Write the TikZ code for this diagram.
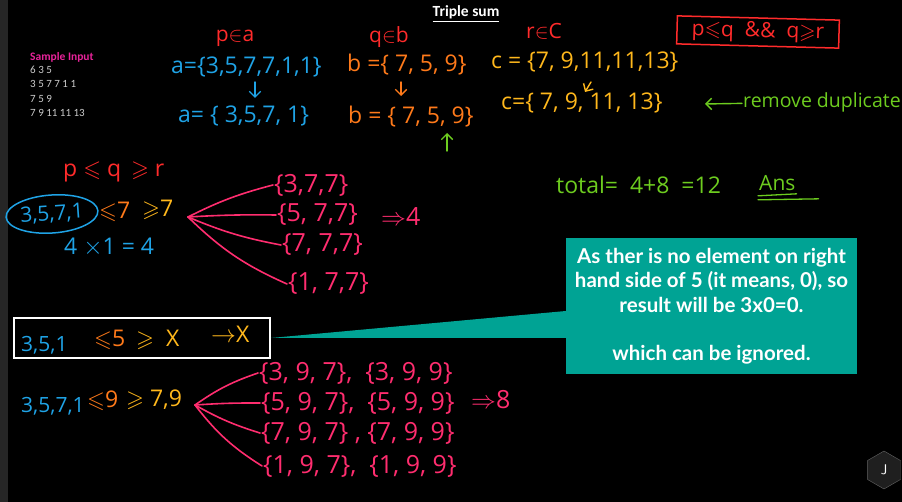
\documentclass[tikz,border=0pt]{standalone}
\usepackage{amssymb}
\usepackage{fontspec}
\newfontfamily\handfont{Open Sans}
\newfontfamily\notefont{Lato}
\newfontfamily\slidefont{Carlito}
\usetikzlibrary{arrows.meta,positioning,shapes.geometric}
\definecolor{inkred}{HTML}{FF2B2B}
\definecolor{inkblue}{HTML}{1FA3E6}
\definecolor{inkorange}{HTML}{FF7A1A}
\definecolor{inkyellow}{HTML}{FFB81C}
\definecolor{inkgreen}{HTML}{6DCC1F}
\definecolor{inkpink}{HTML}{FF2D6F}
\definecolor{noteteal}{HTML}{00A394}
\definecolor{samplepink}{HTML}{E8239A}

\begin{document}
\begin{tikzpicture}[x=1pt, y=-1pt,
  hand/.style={font=\handfont\fontsize{23}{26}\selectfont, inner sep=1pt},
  small/.style={font=\handfont\fontsize{21}{24}\selectfont, inner sep=1pt},
  set/.style={font=\handfont\fontsize{25}{28}\selectfont, inner sep=1pt, text=inkpink, anchor=west},
  fan/.style={draw=inkpink, line width=1.6pt, line cap=round},
  ink/.style={-{Straight Barb[length=2mm]}, line width=1.4pt, line cap=round}
]
  \useasboundingbox (0,0) rectangle (902,502);
  \fill[black] (0,0) rectangle (902,502);
  \fill[black!85] (0,0) rectangle (8,502);

  % header and sample input
  \node[text=white, font=\slidefont\bfseries\fontsize{15.5}{18}\selectfont] (title) at (466,14) {\underline{Triple sum}};
  \node[anchor=west, text=samplepink, font=\slidefont\bfseries\fontsize{11.5}{13}\selectfont, inner sep=0pt] (sample) at (30,57) {Sample Input};
  \node[anchor=north west, text=black!20, align=left, inner sep=0pt,
    font=\slidefont\fontsize{11}{14.3}\selectfont] (input) at (30,66)
    {6 3 5\\3 5 7 7 1 1\\7 5 9\\7 9 11 11 13};

  % the three sets
  \node[small, text=inkred] (pa) at (235,38) {p$\in$a};
  \node[hand, text=inkblue, anchor=west] (a1) at (170,67) {a=\{3,5,7,7,1,1\}};
  \node[hand, text=inkblue, anchor=west] (a2) at (177,116) {a= \{ 3,5,7, 1\}};
  \node[small, text=inkred] (qb) at (389,37) {q$\in$b};
  \node[hand, text=inkorange, anchor=west] (b1) at (346,65) {b =\{ 7, 5, 9\}};
  \node[hand, text=inkorange, anchor=west] (b2) at (347,117) {b = \{ 7, 5, 9\}};
  \node[small, text=inkred] (rc) at (544,31) {r$\in$C};
  \node[hand, text=inkyellow, anchor=west] (c1) at (490,62) {c = \{7, 9,11,11,13\}};
  \node[hand, text=inkyellow, anchor=west] (c2) at (500,103) {c=\{ 7, 9, 11, 13\}};
  \coordinate (ctail) at (591,82);
  \coordinate (ctip) at (585,92);
  \coordinate (atail) at (255,82);
  \coordinate (atip) at (255,98);
  \coordinate (btail) at (401,82);
  \coordinate (btip) at (401,96);
  \coordinate (gtail) at (447,151);
  \coordinate (gtip) at (447,133);
  \draw[ink, inkblue] (atail) -- (atip);
  \draw[ink, inkorange] (btail) -- (btip);
  \draw[ink, inkyellow] (ctail) -- (ctip);
  \draw[ink, inkgreen] (gtail) -- (gtip);

  \node[small, text=inkred, draw=inkred, line width=1.5pt, rotate=-1.5,
    minimum width=162, minimum height=28, inner sep=0pt] (rule) at (758,32)
    {p$\leqslant$q \ \&\& \ q$\geqslant$r};
  \node[text=inkgreen, anchor=west, inner sep=1pt, font=\handfont\fontsize{19.5}{22}\selectfont] (dup) at (742,102) {remove duplicate};
  \coordinate (duptip) at (705,104);
  \draw[ink, inkgreen] (dup) -- (duptip);

  % first case
  \node[hand, text=inkred, anchor=west] (order1) at (62,172) {p $\leqslant$ q \,$\geqslant$ r};
  \node[small, text=inkblue, ellipse, draw=inkblue, line width=1.5pt, inner sep=0pt,
    minimum width=92, minimum height=38, rotate=4] (ring) at (52,214) {3,5,7,1};
  \node[hand, text=inkorange, anchor=west] (le7) at (98,212) {$\leqslant$7};
  \node[hand, text=inkyellow, anchor=west] (ge7) at (141,210) {$\geqslant$7};
  \node[hand, text=inkblue, anchor=west] (prod1) at (63,247) {4 $\times$1 = 4};
  \coordinate (fan1) at (188,217);
  \node[set] (s1) at (273,185) {\{3,7,7\}};
  \node[set] (s2) at (276,215) {\{5, 7,7\}};
  \node[set] (s3) at (281,245) {\{7, 7,7\}};
  \node[set] (s4) at (287,284) {\{1, 7,7\}};
  \node[set] (res1) at (380,217) {$\Rightarrow$4};
  \draw[fan] (fan1) to[bend left=6] (s1.west);
  \draw[fan] (fan1) to[bend left=2] (s2.west);
  \draw[fan] (fan1) to[bend right=6] (s3.west);
  \draw[fan] (fan1) to[bend right=10] (s4.west);

  \node[hand, text=inkgreen, anchor=west] (total) at (555,185) {total= \ 4+8 \ =12};
  \node[small, text=inkgreen, anchor=west] (ans) at (758,183) {Ans};
  \draw[inkgreen, line width=1.3pt, line cap=round] ([yshift=-4pt]ans.south west) -- ([yshift=-2pt]ans.south east);
  \draw[inkgreen, line width=1.3pt, line cap=round] ([yshift=-8pt]ans.south west) -- ([xshift=22pt,yshift=-7pt]ans.south east);

  % second case, left out
  \node[draw=white, line width=1.5pt, minimum width=256, minimum height=40, inner sep=0pt] (skip) at (142,338) {};
  \node[small, text=inkblue, anchor=west] (skipa) at (20,345) {3,5,1};
  \node[hand, text=inkorange, anchor=west] (skipb) at (93,340) {$\leqslant$5};
  \node[hand, text=inkyellow, anchor=west] (skipc) at (135,340) {$\geqslant$ \ X};
  \node[hand, text=inkyellow, anchor=west] (skipd) at (210,334) {$\rightarrow$X};
  \node[fill=noteteal, text=white, align=center, minimum width=291, minimum height=136,
    font=\notefont\bfseries\fontsize{20.5}{24.5}\selectfont] (note) at (711.5,306)
    {As ther is no element on right\\hand side of 5 (it means, 0), so\\result will be 3x0=0.\\[24pt]which can be ignored.};
  \fill[noteteal] ([yshift=-5pt]note.west) -- (skip.east) -- ([yshift=-32pt]note.west) -- cycle;

  % third case
  \node[small, text=inkblue, anchor=west] (b3) at (20,406) {3,5,7,1};
  \node[hand, text=inkorange, anchor=west] (le9) at (86,401) {$\leqslant$9};
  \node[hand, text=inkyellow, anchor=west] (ge9) at (125,400) {$\geqslant$ 7,9};
  \coordinate (fan2) at (195,405);
  \node[set] (t1) at (258,373) {\{3, 9, 7\}, \ \{3, 9, 9\}};
  \node[set] (t2) at (260,403) {\{5, 9, 7\}, \ \{5, 9, 9\}};
  \node[set] (t3) at (260,433) {\{7, 9, 7\} , \{7, 9, 9\}};
  \node[set] (t4) at (262,466) {\{1, 9, 7\}, \ \{1, 9, 9\}};
  \node[set] (res2) at (470,400) {$\Rightarrow$8};
  \draw[fan] (fan2) to[bend left=8] (t1.west);
  \draw[fan] (fan2) to[bend left=2] (t2.west);
  \draw[fan] (fan2) to[bend right=6] (t3.west);
  \draw[fan] (fan2) to[bend right=10] (t4.west);

  \node[regular polygon, regular polygon sides=6, shape border rotate=30, draw=black!60,
    fill=black!88, text=white, minimum size=38, font=\sffamily\fontsize{14}{16}\selectfont] (badge) at (884,470) {J};
\end{tikzpicture}
\end{document}
